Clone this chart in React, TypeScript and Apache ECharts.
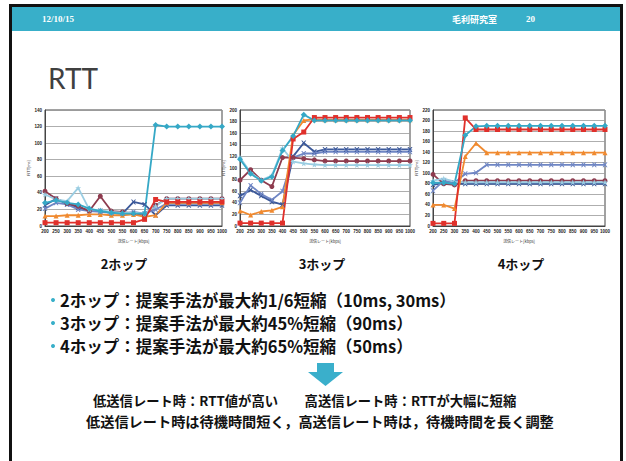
import React, { useEffect, useRef } from "react";
import * as echarts from "echarts";

const categories = ["200","250","300","350","400","450","500","550","600","650","700","750","800","850","900","950","1000"];
const seriesNames = ["navy", "blue", "maroon", "lightblue", "orange", "red", "teal"];

// 2-hop
const hop2Navy = [25, 33, 27, 22, 19, 18, 16, 15, 29, 26, 13, 25, 25, 25, 25, 25, 25];
const hop2Blue = [21, 28, 26, 20, 18, 17, 16, 15, 17, 15, 20, 27, 27, 27, 27, 27, 27];
const hop2Maroon = [42, 33, 27, 24, 18, 36, 18, 17, 15, 13, 25, 33, 33, 33, 33, 33, 33];
const hop2LightBlue = [38, 32, 30, 46, 20, 19, 17, 16, 16, 15, 24, 33, 33, 33, 33, 33, 33];
const hop2Orange = [12, 12, 13, 13, 14, 14, 13, 13, 14, 11, 13, 28, 28, 28, 28, 28, 28];
const hop2Red = [4, 4, 4, 4, 4, 4, 4, 4, 4, 8, 32, 29, 29, 29, 29, 29, 29];
const hop2Teal = [28, 31, 28, 26, 21, 18, 16, 15, 15, 15, 122, 120, 120, 120, 120, 120, 120];

// 3-hop
const hop3Navy = [52, 62, 52, 42, 37, 120, 143, 128, 132, 132, 132, 132, 132, 132, 132, 132, 132];
const hop3Blue = [40, 70, 55, 45, 60, 118, 125, 125, 128, 128, 128, 128, 128, 128, 128, 128, 128];
const hop3Maroon = [79, 97, 79, 68, 118, 118, 116, 114, 112, 112, 112, 112, 112, 112, 112, 112, 112];
const hop3LightBlue = [118, 92, 79, 87, 134, 111, 108, 106, 105, 105, 105, 105, 105, 105, 105, 105, 105];
const hop3Orange = [26, 19, 25, 27, 33, 157, 182, 184, 183, 183, 183, 183, 183, 183, 183, 183, 183];
const hop3Red = [5, 5, 5, 5, 5, 150, 162, 187, 187, 187, 187, 187, 187, 187, 187, 187, 187];
const hop3Teal = [115, 90, 78, 85, 130, 155, 192, 182, 182, 182, 182, 182, 182, 182, 182, 182, 182];

// 4-hop
const hop4Navy = [78, 82, 80, 80, 80, 80, 80, 80, 80, 80, 80, 80, 80, 80, 80, 80, 80];
const hop4Blue = [67, 86, 82, 99, 101, 116, 116, 116, 116, 116, 116, 116, 116, 116, 116, 116, 116];
const hop4Maroon = [98, 80, 78, 86, 86, 86, 86, 86, 86, 86, 86, 86, 86, 86, 86, 86, 86];
const hop4LightBlue = [86, 90, 84, 83, 83, 83, 83, 83, 83, 83, 83, 83, 83, 83, 83, 83, 83];
const hop4Orange = [40, 40, 33, 132, 157, 139, 139, 139, 139, 139, 139, 139, 139, 139, 139, 139, 139];
const hop4Red = [5, 5, 5, 205, 183, 183, 183, 183, 183, 183, 183, 183, 183, 183, 183, 183, 183];
const hop4Teal = [82, 82, 80, 172, 189, 190, 190, 190, 190, 190, 190, 190, 190, 190, 190, 190, 190];

const yMax = [140, 200, 220];
const chartTitles = ["2ホップ", "3ホップ", "4ホップ"];
const bullets = [
  "2ホップ：提案手法が最大約1/6短縮（10ms, 30ms）",
  "3ホップ：提案手法が最大約45%短縮（90ms）",
  "4ホップ：提案手法が最大約65%短縮（50ms）",
];
const conclusion1 = "低送信レート時：RTT値が高い　　高送信レート時：RTTが大幅に短縮";
const conclusion2 = "低送信レート時は待機時間短く，高送信レート時は，待機時間を長く調整";

const X_PATH = "path://M0,0 L2,0 L5,3 L8,0 L10,0 L6.5,5 L10,10 L8,10 L5,7 L2,10 L0,10 L3.5,5 Z";
const STAR_PATH = "path://M5,0 L6.2,3.6 L10,3.6 L7,5.9 L8.1,9.5 L5,7.3 L1.9,9.5 L3,5.9 L0,3.6 L3.8,3.6 Z";

const styles: Record<string, { color: string; symbol: string; size: number }> = {
  navy: { color: "#3B5899", symbol: X_PATH, size: 5 },
  blue: { color: "#6F86C4", symbol: X_PATH, size: 5 },
  maroon: { color: "#8E3B4E", symbol: "circle", size: 5 },
  lightblue: { color: "#9ACDE2", symbol: STAR_PATH, size: 6 },
  orange: { color: "#F08A30", symbol: "triangle", size: 5 },
  red: { color: "#E0302B", symbol: "rect", size: 5 },
  teal: { color: "#35A8C6", symbol: "diamond", size: 6 },
};

const hopData = [
  [hop2Navy, hop2Blue, hop2Maroon, hop2LightBlue, hop2Orange, hop2Red, hop2Teal],
  [hop3Navy, hop3Blue, hop3Maroon, hop3LightBlue, hop3Orange, hop3Red, hop3Teal],
  [hop4Navy, hop4Blue, hop4Maroon, hop4LightBlue, hop4Orange, hop4Red, hop4Teal],
];

const grids = [
  { left: 45, top: 110, width: 177, height: 116 },
  { left: 240, top: 110, width: 170, height: 116 },
  { left: 433, top: 110, width: 172, height: 116 },
];

const TEAL = "#38AFC9";
const JP = "'Noto Sans CJK JP', sans-serif";

export default function App() {
  const ref = useRef<HTMLDivElement>(null);
  useEffect(() => {
    if (!ref.current) return;
    const chart = echarts.init(ref.current, undefined, { renderer: "svg" });
    const series: any[] = [];
    hopData.forEach((set, g) => {
      set.forEach((data, k) => {
        const st = styles[seriesNames[k]];
        series.push({
          type: "line",
          name: seriesNames[k] + g,
          xAxisIndex: g,
          yAxisIndex: g,
          data,
          symbol: st.symbol,
          symbolSize: st.size,
          showSymbol: true,
          lineStyle: { color: st.color, width: 1.8 },
          itemStyle: { color: st.color },
          emphasis: { disabled: true },
        });
      });
    });
    const graphic: any[] = [
      { type: "rect", shape: { x: 11, y: 7, width: 610, height: 24 }, style: { fill: TEAL } },
      { type: "rect", shape: { x: 10.5, y: 5.5, width: 611, height: 470 }, style: { fill: "none", stroke: "#111", lineWidth: 3 } },
      { type: "text", x: 42, y: 19, style: { text: "12/10/15", fill: "#fff", font: "bold 9px 'Liberation Serif', serif", verticalAlign: "middle" } },
      { type: "text", x: 452, y: 19, style: { text: "毛利研究室", fill: "#fff", font: "bold 9px 'Noto Sans CJK JP', serif", verticalAlign: "middle" } },
      { type: "text", x: 526, y: 19, style: { text: "20", fill: "#fff", font: "bold 9px 'Liberation Serif', serif", verticalAlign: "middle" } },
      { type: "text", x: 48, y: 78, style: { text: "RTT", fill: "#404040", font: "28px Lato, sans-serif", verticalAlign: "middle" } },
      { type: "polygon", shape: { points: [[317, 363], [334, 363], [334, 372], [343, 372], [325.5, 386], [308, 372], [317, 372]] }, style: { fill: "#3AAFCB" } },
      { type: "text", x: 93, y: 400.5, style: { text: conclusion1, fill: "#111", font: "bold 13.3px " + JP, verticalAlign: "middle" } },
      { type: "text", x: 86, y: 421, style: { text: conclusion2, fill: "#111", font: "bold 14.2px " + JP, verticalAlign: "middle" } },
    ];
    const centers = [124, 322, 521];
    chartTitles.forEach((t, i) => {
      graphic.push({ type: "text", x: centers[i], y: 263, style: { text: t, fill: "#111", font: "bold 13px " + JP, align: "center", verticalAlign: "middle" } });
    });
    bullets.forEach((b, i) => {
      const y = 300 + i * 23;
      graphic.push({ type: "circle", shape: { cx: 53, cy: y, r: 2 }, style: { fill: TEAL } });
      graphic.push({ type: "text", x: 60, y, style: { text: b, fill: "#111", font: "bold 16.5px " + JP, verticalAlign: "middle" } });
    });

    chart.setOption({
      animation: false,
      backgroundColor: "#fff",
      grid: grids.map((g) => ({ ...g, show: true, borderColor: "#444", borderWidth: 1, containLabel: false })),
      xAxis: grids.map((_, i) => ({
        type: "category",
        gridIndex: i,
        data: categories,
        boundaryGap: false,
        name: "送信レート[kbps]",
        nameLocation: "middle",
        nameGap: 13,
        nameTextStyle: { fontSize: 4, color: "#333", fontFamily: JP },
        axisLine: { show: true, lineStyle: { color: "#444" } },
        axisTick: { show: false },
        axisLabel: { interval: 0, fontSize: 4.5, fontWeight: "bold", color: "#222", margin: 3 },
        splitLine: { show: false },
      })),
      yAxis: grids.map((_, i) => ({
        type: "value",
        gridIndex: i,
        min: 0,
        max: yMax[i],
        interval: 20,
        name: "RTT[ms]",
        nameLocation: "middle",
        nameGap: 11,
        nameRotate: 90,
        nameTextStyle: { fontSize: 4, color: "#333" },
        axisLine: { show: true, lineStyle: { color: "#444" } },
        axisTick: { show: false },
        axisLabel: { fontSize: 4.5, fontWeight: "bold", color: "#222", margin: 3 },
        splitLine: { show: true, lineStyle: { color: "#999", width: 0.8 } },
      })),
      series,
      graphic,
    });
    return () => chart.dispose();
  }, []);
  return <div ref={ref} style={{ position: "fixed", left: 0, top: 0, width: 626, height: 461, background: "#fff" }} />;
}
